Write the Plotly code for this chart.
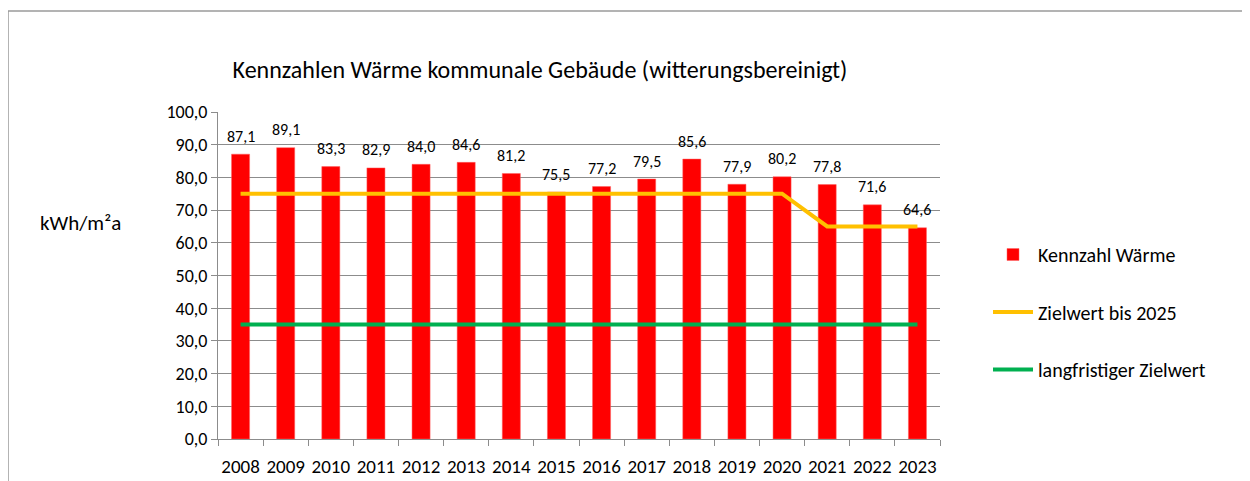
import plotly.graph_objects as go

years = [str(y) for y in range(2008, 2024)]
kennzahl = [87.1, 89.1, 83.3, 82.9, 84.0, 84.6, 81.2, 75.5, 77.2, 79.5, 85.6, 77.9, 80.2, 77.8, 71.6, 64.6]
ziel_2025 = [75, 75, 75, 75, 75, 75, 75, 75, 75, 75, 75, 75, 75, 65, 65, 65]
ziel_lang = [35] * 16
y_ticks = [0, 10, 20, 30, 40, 50, 60, 70, 80, 90, 100]

FONT = "Carlito, Calibri, Lato, sans-serif"
GRID = "#8c8c8c"

fig = go.Figure()
fig.add_trace(go.Bar(
    x=years, y=kennzahl, name="Kennzahl Wärme",
    marker=dict(color="#FF0000", line=dict(color="#FF6060", width=0.5)),
    legendgroup="a",
))
fig.add_trace(go.Scatter(
    x=years, y=ziel_2025, name="Zielwert bis 2025", mode="lines",
    line=dict(color="#FFC000", width=4), legendgroup="b",
))
fig.add_trace(go.Scatter(
    x=years, y=ziel_lang, name="langfristiger Zielwert", mode="lines",
    line=dict(color="#00B050", width=4), legendgroup="c",
))

# page coordinates (browser body has an 8px margin)
OFF = 8
L, R, T, B = 218, 940, 112, 439
W, H = 1242, 473
pw, ph = R - L, B - T

def px_x(p):
    return (p - L) / pw

def px_y(p):
    return (B - p) / ph

# value labels: category axis positions are the category indices
annotations = [dict(x=i, y=v, xref="x", yref="y", text=f"{v:.1f}".replace(".", ","),
                    showarrow=False, yshift=18, yanchor="middle",
                    font=dict(size=16, family=FONT, color="#000000"))
               for i, v in enumerate(kennzahl)]
annotations.append(dict(text="kWh/m²a", x=px_x(38), y=px_y(223), xref="paper", yref="paper",
                        xanchor="left", yanchor="middle", showarrow=False,
                        font=dict(size=21, family=FONT, color="#000000")))

fig.update_layout(
    width=W, height=H,
    margin=dict(l=L - OFF, r=W - (R - OFF), t=T - OFF, b=H - (B - OFF), pad=0),
    paper_bgcolor="white", plot_bgcolor="white",
    separators=",.",
    bargap=0.6,
    font=dict(family=FONT, color="#000000"),
    title=dict(text="Kennzahlen Wärme kommunale Gebäude (witterungsbereinigt)",
               x=px_x(540), xref="paper", xanchor="center",
               y=1 - (70 - OFF) / H, yanchor="middle",
               font=dict(size=24, family=FONT, color="#000000")),
    showlegend=True,
    legend=dict(x=px_x(988), y=px_y(235), xanchor="left", yanchor="top",
                font=dict(size=20, family=FONT, color="#000000"),
                tracegroupgap=28.5, itemwidth=40, bgcolor="rgba(0,0,0,0)"),
    xaxis=dict(type="category", showline=True, linecolor=GRID, linewidth=1,
               ticks="outside", ticklen=6, tickcolor=GRID, tickson="boundaries",
               tickangle=0, ticklabelstandoff=10,
               tickfont=dict(size=19, family=FONT, color="#000000"),
               showgrid=False, mirror=False, range=[-0.5, 15.5], automargin=False),
    yaxis=dict(range=[0, 100], tickvals=y_ticks, tickformat=".1f",
               showgrid=True, gridcolor=GRID, gridwidth=1,
               showline=True, linecolor=GRID, linewidth=1,
               ticks="outside", ticklen=6, tickcolor=GRID,
               tickfont=dict(size=18, family=FONT, color="#000000"),
               zeroline=False, automargin=False),
    annotations=annotations,
    shapes=[dict(type="rect", xref="paper", yref="paper",
                 x0=px_x(8), x1=px_x(1262), y0=px_y(495), y1=px_y(11),
                 line=dict(color="#9a9a9a", width=1.5), fillcolor="rgba(0,0,0,0)", layer="below")],
)

fig.write_html("out.html")
